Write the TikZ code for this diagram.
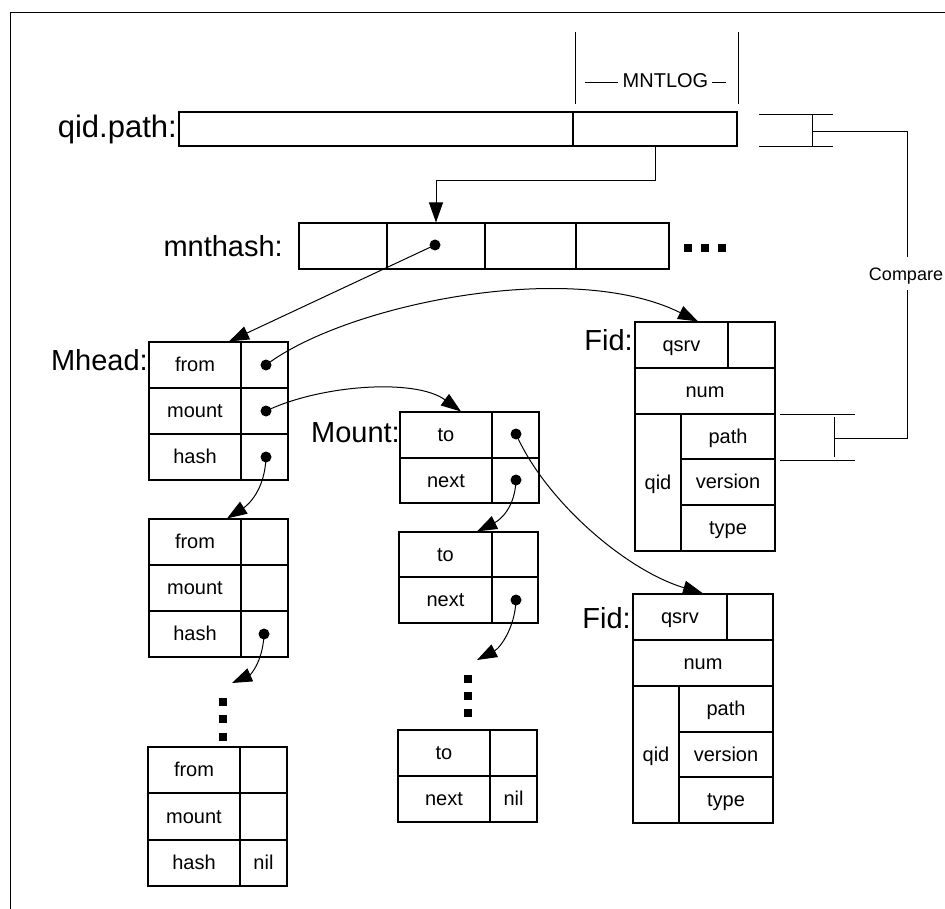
\documentclass[tikz,border=0pt]{standalone}
\usepackage{fontspec}
\setmainfont{Liberation Sans}
\usetikzlibrary{arrows.meta}
\newcommand\rcell[6]{\node[rc, minimum width={#4-#2}, minimum height={#5-#3}] (#1) at ({(#2+#4)/2},{(#3+#5)/2}) {#6};}
\begin{document}
\begin{tikzpicture}[x=1pt,y=-1pt,
  rc/.style={draw, line width=1.1pt, inner sep=0pt, text height=14pt, text depth=1pt, font=\fontsize{20}{24}\selectfont},
  big/.style={inner sep=0pt, anchor=base east, font=\fontsize{29}{34}\selectfont},
  dot/.style={circle, fill, inner sep=0pt, minimum size=11pt},
  sq/.style={rectangle, fill, inner sep=0pt, minimum size=8pt},
  arr/.style={line width=1pt, -{Triangle[length=20pt,width=14pt]}},
  ln/.style={line width=1pt}]
\useasboundingbox (0,0) rectangle (945,909);
% frame
\draw[ln] (945,13) -- (10,13) -- (10,909);
% qid.path
\node[big, font=\fontsize{31}{36}\selectfont] (lqid) at (177,138) {qid.path:};
\rcell{qa}{179}{112}{573}{146}{}
\rcell{qlog}{573}{112}{737}{146}{}
\draw[ln] (575,32) -- (575,104);
\draw[ln] (738,32) -- (738,104);
\node[inner sep=0pt, font=\fontsize{20}{24}\selectfont] (mntlog) at (665.5,81) {MNTLOG};
\draw[ln] ([xshift=-5pt,yshift=-2pt]mntlog.west) -- ++(-33,0);
\draw[ln] ([xshift=4pt,yshift=-2pt]mntlog.east) -- ++(14,0);
% mnthash
\node[big] (lmn) at (283,257) {mnthash:};
\rcell{mn1}{299}{223}{387}{269}{}
\rcell{mn2}{387}{223}{485}{269}{}
\rcell{mn3}{485}{223}{576}{269}{}
\rcell{mn4}{576}{223}{669}{269}{}
\node[dot] (d0) at (435,245) {};
\node[sq] (e1) at (688,248) {};
\node[sq] (e2) at (705,248) {};
\node[sq] (e3) at (722,248) {};
% Mhead 1
\node[big] (lmh) at (148,370) {Mhead:};
\rcell{mhA1}{149}{342}{241}{388}{from}
\rcell{mhA2}{149}{388}{241}{434}{mount}
\rcell{mhA3}{149}{434}{241}{480}{hash}
\rcell{mhAp1}{241}{342}{288}{388}{}
\rcell{mhAp2}{241}{388}{288}{434}{}
\rcell{mhAp3}{241}{434}{288}{480}{}
\node[dot] (mhd1) at (266,365) {};
\node[dot] (mhd2) at (266,411) {};
\node[dot] (mhd3) at (266,457) {};
% Mhead 2
\rcell{mhB1}{149}{519}{241}{565}{from}
\rcell{mhB2}{149}{565}{241}{611}{mount}
\rcell{mhB3}{149}{611}{241}{657}{hash}
\rcell{mhBp1}{241}{519}{288}{565}{}
\rcell{mhBp2}{241}{565}{288}{611}{}
\rcell{mhBp3}{241}{611}{288}{657}{}
\node[dot] (mhBd3) at (264,634) {};
\coordinate (mhgap) at (232,683);
\node[sq] (v1) at (223,702) {};
\node[sq] (v2) at (223,719) {};
\node[sq] (v3) at (223,737) {};
% Mhead 3
\rcell{mhC1}{148}{747}{240}{793}{from}
\rcell{mhC2}{148}{793}{240}{840}{mount}
\rcell{mhC3}{148}{840}{240}{886}{hash}
\rcell{mhCp1}{240}{747}{287}{793}{}
\rcell{mhCp2}{240}{793}{287}{840}{}
\rcell{mhCp3}{240}{840}{287}{886}{nil}
% Mount 1
\node[big] (lmt) at (400,442) {Mount:};
\rcell{mtA1}{400}{412}{492}{458}{to}
\rcell{mtA2}{400}{458}{492}{503}{next}
\rcell{mtAp1}{492}{412}{539}{458}{}
\rcell{mtAp2}{492}{458}{539}{503}{}
\node[dot] (mtd1) at (516,434) {};
\node[dot] (mtd2) at (516,480) {};
% Mount 2
\rcell{mtB1}{399}{532}{492}{577}{to}
\rcell{mtB2}{399}{577}{492}{623}{next}
\rcell{mtBp1}{492}{532}{538}{577}{}
\rcell{mtBp2}{492}{577}{538}{623}{}
\node[dot] (mtBd2) at (516,600) {};
\coordinate (mtgap) at (477,660);
\node[sq] (w1) at (468,679) {};
\node[sq] (w2) at (468,696) {};
\node[sq] (w3) at (468,713) {};
% Mount 3
\rcell{mtC1}{398}{730}{490}{776}{to}
\rcell{mtC2}{398}{776}{490}{822}{next}
\rcell{mtCp1}{490}{730}{537}{776}{}
\rcell{mtCp2}{490}{776}{537}{822}{nil}
% Fid 1
\node[big] (lfa) at (633,350) {Fid:};
\rcell{faQ}{635}{322}{728}{368}{qsrv}
\rcell{faQp}{728}{322}{775}{368}{}
\rcell{faN}{635}{368}{775}{414}{num}
\rcell{faI}{635}{414}{681}{551}{qid}
\rcell{faP}{681}{414}{775}{459}{path}
\rcell{faV}{681}{459}{775}{505}{version}
\rcell{faT}{681}{505}{775}{551}{type}
% Fid 2
\node[big] (lfb) at (631,628) {Fid:};
\rcell{fbQ}{633}{594}{727}{640}{qsrv}
\rcell{fbQp}{727}{594}{773}{640}{}
\rcell{fbN}{633}{640}{773}{686}{num}
\rcell{fbI}{633}{686}{679}{823}{qid}
\rcell{fbP}{679}{686}{773}{732}{path}
\rcell{fbV}{679}{732}{773}{777}{version}
\rcell{fbT}{679}{777}{773}{823}{type}
% connectors
\draw[arr] (qlog.south) -- ++(0,34) -| (mn2.north);
\draw[arr] (d0.center) -- ([xshift=34pt]mhA1.north);
\draw[arr] (mhd1.center) .. controls (345,305) and (570,258) .. ([xshift=16.5pt]faQ.north);
\draw[arr] (mhd2.center) .. controls (320,385) and (415,378) .. ([xshift=15pt]mtA1.north);
\draw[arr] (mhd3.center) .. controls (265,490) and (248,505) .. ([xshift=32pt]mhB1.north);
\draw[arr] (mtd1.center) .. controls (545,500) and (625,570) .. ([xshift=23pt]fbQ.north);
\draw[arr] (mtd2.center) .. controls (515,508) and (500,520) .. ([xshift=31.5pt]mtB1.north);
\draw[arr] (mhBd3.center) .. controls (263,662) and (250,675) .. (mhgap);
\draw[arr] (mtBd2.center) .. controls (515,628) and (500,648) .. (mtgap);
% compare bracket
\node[inner xsep=0pt, inner ysep=9pt, text height=13pt, text depth=0pt, font=\fontsize{18}{22}\selectfont] (cmp) at (906,274) {Compare};
\draw[ln] (759,115) -- (833,115);
\draw[ln] (759,147) -- (833,147);
\draw[ln] (812,115) -- (812,147);
\draw[ln] (812,132) -- (907,132) -- (907,257);
\draw[ln] (907,290) -- (907,438) -- (834,438);
\draw[ln] (834,417) -- (834,457);
\draw[ln] (780,414) -- (855,414);
\draw[ln] (780,460) -- (855,460);
\end{tikzpicture}
\end{document}
